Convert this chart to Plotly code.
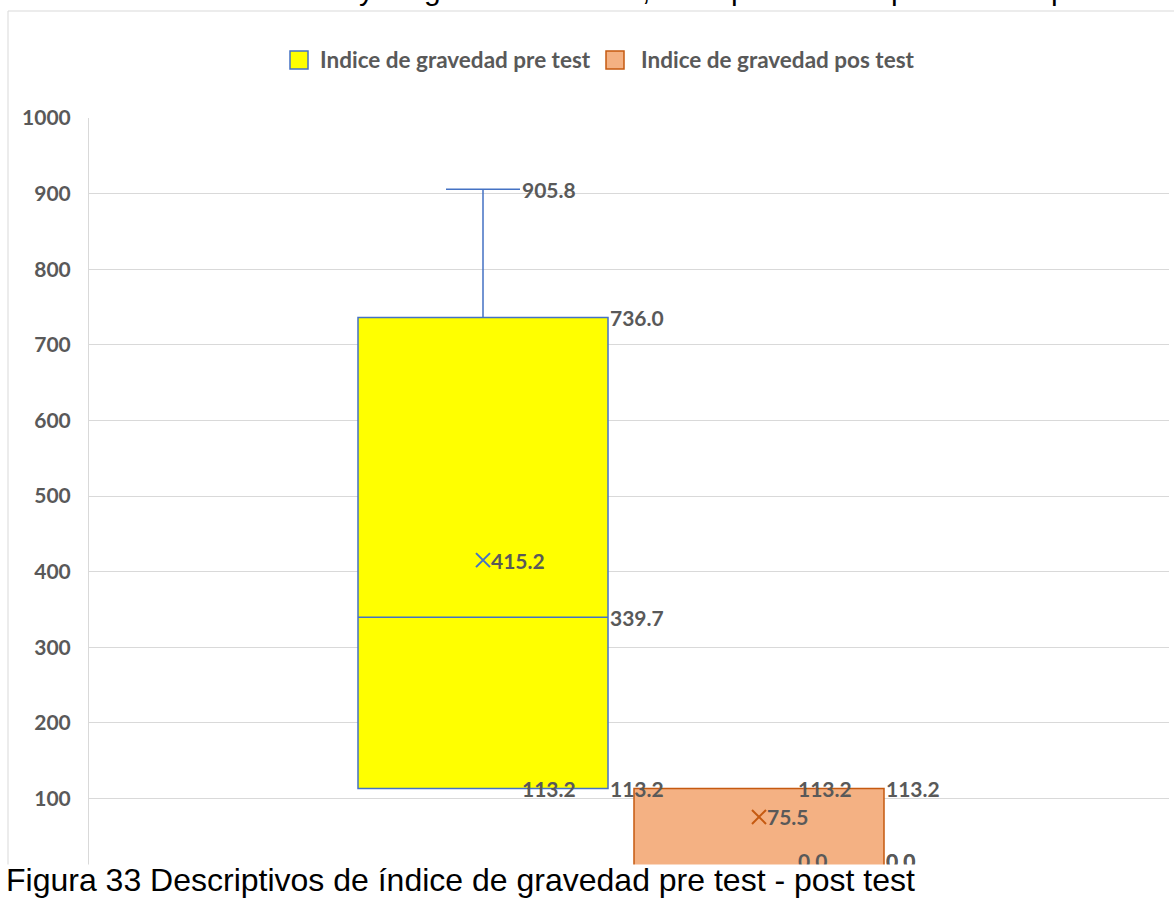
import plotly.graph_objects as go

# ---------------- data ----------------
series = ["Indice de gravedad pre test", "Indice de gravedad pos test"]
q1 = [113.2, 0.0]
median = [339.7, 0.0]
q3 = [736.0, 113.2]
lower_whisker = [113.2, 0.0]
upper_whisker = [905.8, 113.2]
means = [415.2, 75.5]
y_ticks = [100, 200, 300, 400, 500, 600, 700, 800, 900, 1000]
caption = "Figura 33 Descriptivos de índice de gravedad pre test - post test"
cut_title_glyphs = ["y", "g", ",", "p", "p", "p"]

# ---------------- style ----------------
FILL = ["#FFFF00", "#F4B183"]
EDGE = ["#4472C4", "#C55A11"]
LABEL_COLOR = "#595959"
GRID = "#D9D9D9"
W, H = 1174, 898
PL, PR, PT, PB = 89, 1169, 118, 874
UNIT = 276.0                      # px between box centres
CENTER0 = 483.0                   # px of first box centre
BOX_W = 250.0 / UNIT
WHISK = 0.296
positions = [0, 1]
x_lo = -(CENTER0 - PL) / UNIT
x_hi = (PR - CENTER0) / UNIT
Y_MIN, Y_MAX = 0, 1000


def pxx(px):
    return (px - PL) / (PR - PL)


def pxy(py):
    return (PB - py) / (PB - PT)


fig = go.Figure()

for i, name in enumerate(series):
    fig.add_trace(go.Box(
        x=[positions[i]], q1=[q1[i]], median=[median[i]], q3=[q3[i]],
        lowerfence=[lower_whisker[i]], upperfence=[upper_whisker[i]],
        width=BOX_W, whiskerwidth=WHISK, fillcolor=FILL[i],
        line=dict(color=EDGE[i], width=1.5), boxpoints=False,
        name=name, showlegend=False, hoverinfo="skip"))

for i in range(len(series)):
    fig.add_trace(go.Scatter(
        x=[positions[i]], y=[means[i]], mode="markers",
        marker=dict(symbol="x-thin-open", size=14, color=EDGE[i],
                    line=dict(color=EDGE[i], width=2)),
        showlegend=False, hoverinfo="skip"))

lab_font = dict(family="Lato", size=21, color=LABEL_COLOR)
leg_font = dict(family="Lato", size=22.5, color=LABEL_COLOR)
annotations = []


def add_label(x, y, val, xshift=0):
    # labels that would leave the plot area are kept inside it (as Excel does)
    anchor = "bottom" if y <= Y_MIN else "middle"
    annotations.append(dict(
        x=x, y=y, xref="x", yref="y", text=f"<b>{val:.1f}</b>",
        showarrow=False, xanchor="left", yanchor=anchor,
        xshift=xshift, font=lab_font, borderpad=0))


for i in range(len(series)):
    c = positions[i]
    cap = c + BOX_W * WHISK / 2
    edge = c + BOX_W / 2
    add_label(cap, upper_whisker[i], upper_whisker[i], 1)
    add_label(edge, q3[i], q3[i], 1)
    add_label(edge, median[i], median[i], 1)
    add_label(edge, q1[i], q1[i], 1)
    add_label(cap, lower_whisker[i], lower_whisker[i], 1)
    add_label(c, means[i], means[i], 7)

# legend (manual)
leg_sq = [(290, 308), (606, 624)]
leg_tx = [319, 640]
shapes = []
for i, name in enumerate(series):
    x0, x1 = leg_sq[i]
    shapes.append(dict(type="rect", xref="paper", yref="paper",
                       x0=pxx(x0), x1=pxx(x1), y0=pxy(69), y1=pxy(51),
                       fillcolor=FILL[i], line=dict(color=EDGE[i], width=1.5)))
    annotations.append(dict(
        x=pxx(leg_tx[i]), y=pxy(60), xref="paper", yref="paper",
        text=f"<b>{name}</b>", showarrow=False, xanchor="left",
        yanchor="middle", font=leg_font, borderpad=0))

# outer chart border
shapes.append(dict(type="rect", xref="paper", yref="paper", layer="below",
                   x0=pxx(8), x1=pxx(1185), y0=pxy(905), y1=pxy(11),
                   line=dict(color=GRID, width=1), fillcolor="rgba(0,0,0,0)"))

# cut-off document text above the chart
glyph_x = [358, 423, 641, 730, 890, 1050]
for g, gx in zip(cut_title_glyphs, glyph_x):
    annotations.append(dict(
        x=pxx(gx), y=pxy(7), xref="paper", yref="paper", text=g,
        showarrow=False, xanchor="left", yanchor="bottom", borderpad=0,
        font=dict(family="Liberation Sans", size=30, color="#000000")))

# white band of the page covering the bottom of the chart
annotations.append(dict(
    x=pxx(-20), y=pxy(864), xref="paper", yref="paper", text=" ",
    showarrow=False, xanchor="left", yanchor="top",
    width=1220, height=40, bgcolor="#FFFFFF", borderpad=0,
    font=dict(size=10)))

# caption
annotations.append(dict(
    x=pxx(5), y=pxy(880), xref="paper", yref="paper", text=caption,
    showarrow=False, xanchor="left", yanchor="middle", borderpad=0,
    font=dict(family="Liberation Sans", size=32, color="#000000")))

fig.update_layout(
    width=W, height=H,
    margin=dict(l=PL, r=W - PR, t=PT, b=H - PB),
    paper_bgcolor="#FFFFFF", plot_bgcolor="#FFFFFF",
    showlegend=False,
    xaxis=dict(range=[x_lo, x_hi], showgrid=False, zeroline=False,
               showticklabels=False, showline=False, fixedrange=True),
    yaxis=dict(range=[Y_MIN, Y_MAX], tickvals=y_ticks,
               ticktext=[f"<b>{v}</b>" for v in y_ticks],
               showgrid=True, gridcolor=GRID, gridwidth=1,
               zeroline=False, showline=True, linecolor=GRID, linewidth=1,
               ticks="outside", ticklen=0, ticklabelstandoff=13,
               tickfont=lab_font),
    shapes=shapes, annotations=annotations,
)

fig.write_html("out.html")
